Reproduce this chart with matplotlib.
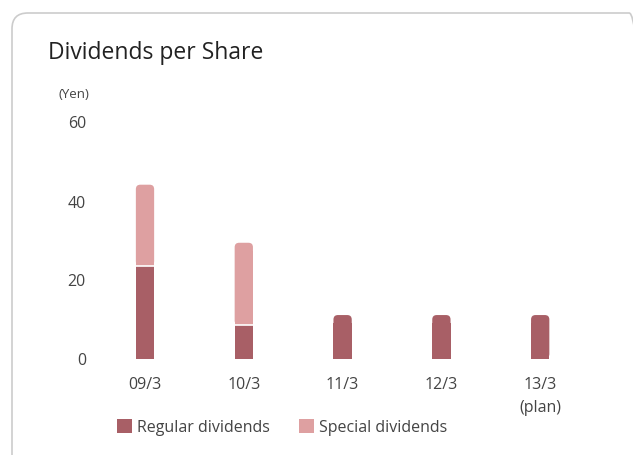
import numpy as np
import matplotlib.pyplot as plt
from matplotlib.patches import FancyBboxPatch

plt.rcParams['font.family'] = ['Open Sans', 'DejaVu Sans']

# 読み取った値
years = ["09/3", "10/3", "11/3", "12/3", "13/3\n(plan)"]
regular = [23.5, 8.5, 11, 11, 11]
special = [20.5, 20.8, 0, 0, 0]

dark = "#a85f66"
light = "#dea0a1"
txt = "#444444"

fig = plt.figure(figsize=(6.33, 4.56), dpi=100)

# 枠線
frame = FancyBboxPatch((12 / 633, -0.1), 1.0, 1.1 - 14 / 456,
                       boxstyle="round,pad=0,rounding_size=0.025",
                       transform=fig.transFigure, fc="none", ec="#cccccc", lw=1.2,
                       mutation_aspect=633 / 456, zorder=-1)
fig.patches.append(frame)

ax = fig.add_axes([95.6 / 633, 96.5 / 456, 494 / 633, 237 / 456])
ax.set_facecolor("none")

x = np.arange(len(years))
w = 0.185
r = 0.045
asp = (98.8 / 3.95)

reg = np.array(regular)
spe = np.array(special)

for i in x:
    if spe[i] > 0:
        ax.bar(i, reg[i], w, color=dark, zorder=2)
        seg_b, seg_h, col = reg[i], spe[i], light
    else:
        seg_b, seg_h, col = 0, reg[i], dark
    # 上端だけ角丸にする
    ax.bar(i, seg_h - 2, w, bottom=seg_b, color=col, zorder=2)
    p = FancyBboxPatch((i - w / 2, seg_b), w, seg_h,
                       boxstyle="round,pad=0,rounding_size=%f" % r,
                       mutation_aspect=asp, fc=col, ec="none", zorder=2)
    ax.add_patch(p)
    if spe[i] > 0:
        ax.hlines(reg[i], i - w / 2, i + w / 2, color="white", lw=1.2, zorder=3)

ax.set_xlim(-0.5, 4.5)
ax.set_ylim(0, 60)
ax.set_yticks([0, 20, 40, 60])
ax.set_xticks(x)
ax.set_xticklabels(years, linespacing=1.6)
ax.tick_params(axis="both", length=0, labelsize=11.5, colors=txt)
ax.tick_params(axis="y", pad=7)
ax.tick_params(axis="x", pad=12.5)
for s in ax.spines.values():
    s.set_visible(False)

fig.text(48 / 633, 1 - 53 / 456, "Dividends per Share", fontsize=16.5,
         color="#222222", va="center", ha="left")
fig.text(74 / 633, 1 - 94 / 456, "(Yen)", fontsize=9.5, color=txt,
         va="center", ha="center")

# 凡例
ax.bar(0, 0, 0, color=dark, label="Regular dividends")
ax.bar(0, 0, 0, color=light, label="Special dividends")
fig.legend(loc="center left", bbox_to_anchor=(117 / 633, 1 - 428 / 456), ncol=2,
           frameon=False, fontsize=11.5, labelcolor=txt, handlelength=0.95,
           handleheight=0.95, handletextpad=0.3, columnspacing=1.8,
           borderpad=0, borderaxespad=0)

fig.savefig("out.png", dpi=100)
